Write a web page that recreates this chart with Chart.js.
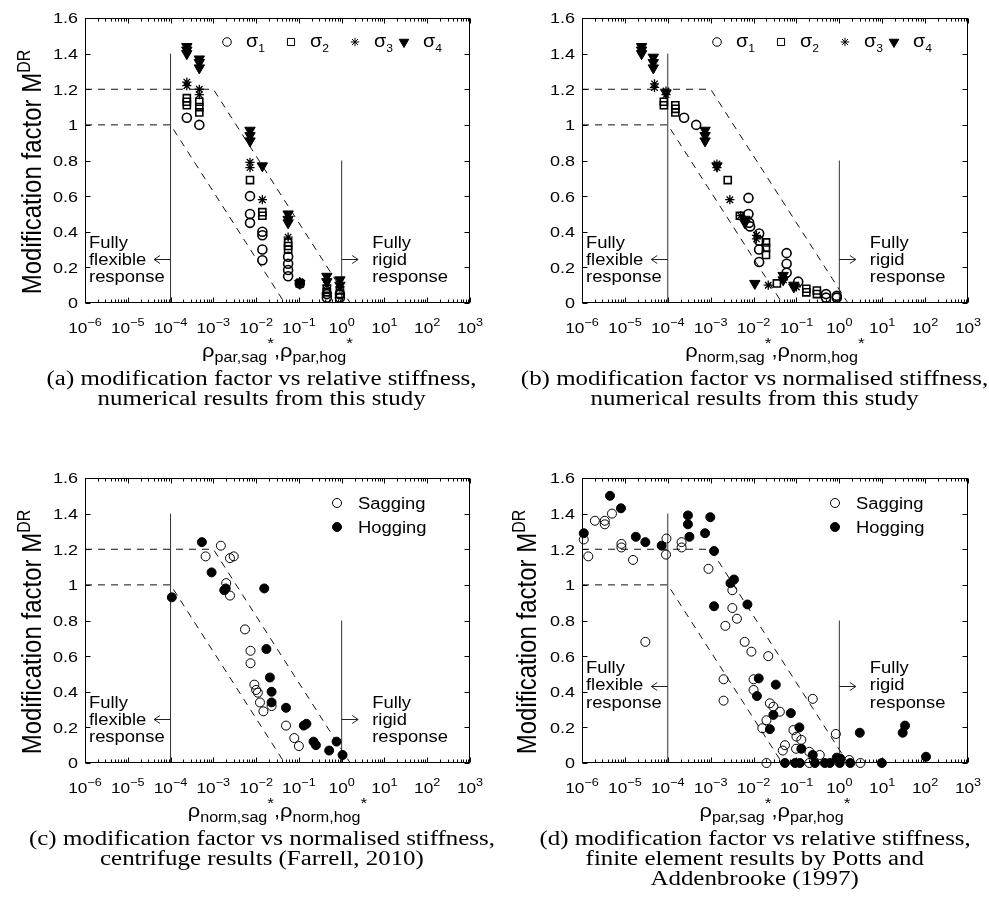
<!DOCTYPE html>
<html><head><meta charset="utf-8">
<script src="https://cdn.jsdelivr.net/npm/chart.js@4.4.0/dist/chart.umd.min.js"></script>
<style>
html,body{margin:0;padding:0;background:#fff;}
#page{position:relative;width:989px;height:917px;overflow:hidden;background:#fff;}
.panel{position:absolute;}
.cap{position:absolute;width:600px;height:22px;font-family:"Liberation Serif","Times New Roman",serif;font-size:20px;line-height:22px;color:#000;text-align:center;white-space:nowrap;}
.cap span{display:inline-block;transform-origin:50% 50%;}
</style></head><body>
<div id="page">
  <div class="panel" style="left:0;top:0;width:490px;height:372px"><canvas id="cA" width="490" height="372"></canvas></div>
  <div class="panel" style="left:495px;top:0;width:494px;height:372px"><canvas id="cB" width="494" height="372"></canvas></div>
  <div class="panel" style="left:0;top:460px;width:490px;height:372px"><canvas id="cC" width="490" height="372"></canvas></div>
  <div class="panel" style="left:495px;top:460px;width:494px;height:372px"><canvas id="cD" width="494" height="372"></canvas></div>

  <div class="cap" style="left:-38px;top:367px"><span class="first">(a) modification factor vs relative stiffness,</span></div>
  <div class="cap" style="left:-38px;top:387px"><span>numerical results from this study</span></div>
  <div class="cap" style="left:455px;top:367px"><span>(b) modification factor vs normalised stiffness,</span></div>
  <div class="cap" style="left:455px;top:387px"><span>numerical results from this study</span></div>
  <div class="cap" style="left:-38px;top:827px"><span>(c) modification factor vs normalised stiffness,</span></div>
  <div class="cap" style="left:-38px;top:847px"><span>centrifuge results (Farrell, 2010)</span></div>
  <div class="cap" style="left:455px;top:827px"><span>(d) modification factor vs relative stiffness,</span></div>
  <div class="cap" style="left:455px;top:847px"><span>finite element results by Potts and</span></div>
  <div class="cap" style="left:455px;top:867px"><span>Addenbrooke (1997)</span></div>
</div>
<script>
// ---------- axis ticks ----------
const xTickVals = [1e-6, 1e-5, 1e-4, 1e-3, 1e-2, 1e-1, 1e0, 1e1, 1e2, 1e3];
const xTickExp  = ['\u22126', '\u22125', '\u22124', '\u22123', '\u22122', '\u22121', '0', '1', '2', '3'];
const yTickVals = [0, 0.2, 0.4, 0.6, 0.8, 1, 1.2, 1.4, 1.6];
const yTickLabels = ['0', '0.2', '0.4', '0.6', '0.8', '1', '1.2', '1.4', '1.6'];

// ---------- guide lines ----------
const flexLimitX = [1e-4, 1e-4],  flexLimitY = [0, 1.4];
const rigidLimitX = [1, 1],       rigidLimitY = [0, 0.8];
const upperBoundX = [1e-6, 1e-3, 1.585], upperBoundY = [1.2, 1.2, 0];
const lowerBoundX = [1e-6, 1e-4, 0.0464], lowerBoundY = [1.0, 1.0, 0];

// ---------- (a) numerical, relative stiffness ----------
const aS1x = [2.4e-4, 4.7e-4, 7.2e-3, 7.2e-3, 7.2e-3, 1.4e-2, 1.4e-2, 1.4e-2, 1.4e-2, 5.6e-2, 5.6e-2, 5.6e-2, 5.6e-2, 0.105, 0.45, 0.45, 0.91, 0.91];
const aS1y = [1.04, 1.00, 0.60, 0.50, 0.45, 0.40, 0.38, 0.30, 0.24, 0.26, 0.22, 0.185, 0.15, 0.11, 0.05, 0.03, 0.05, 0.03];
const aS2x = [2.4e-4, 2.4e-4, 2.4e-4, 4.7e-4, 4.7e-4, 4.7e-4, 7.2e-3, 1.4e-2, 1.4e-2, 5.6e-2, 5.6e-2, 5.6e-2, 0.105, 0.45, 0.45, 0.91, 0.91];
const aS2y = [1.15, 1.13, 1.11, 1.13, 1.10, 1.07, 0.69, 0.51, 0.49, 0.34, 0.32, 0.30, 0.11, 0.08, 0.06, 0.07, 0.05];
const aS3x = [2.4e-4, 2.4e-4, 4.7e-4, 4.7e-4, 7.2e-3, 7.2e-3, 1.4e-2, 5.6e-2, 0.105, 0.45, 0.91];
const aS3y = [1.24, 1.22, 1.20, 1.17, 0.79, 0.76, 0.58, 0.37, 0.12, 0.10, 0.09];
const aS4x = [2.4e-4, 2.4e-4, 2.4e-4, 4.7e-4, 4.7e-4, 4.7e-4, 7.2e-3, 7.2e-3, 7.2e-3, 1.4e-2, 5.6e-2, 5.6e-2, 5.6e-2, 0.105, 0.45, 0.45, 0.91, 0.91];
const aS4y = [1.44, 1.42, 1.40, 1.37, 1.35, 1.32, 0.97, 0.94, 0.91, 0.77, 0.50, 0.47, 0.45, 0.11, 0.15, 0.12, 0.13, 0.10];

// ---------- (b) numerical, normalised stiffness ----------
const bS1x = [2.4e-4, 4.6e-4, 7.6e-3, 7.6e-3, 7.9e-3, 8.3e-3, 1.35e-2, 1.35e-2, 1.35e-2, 1.35e-2, 5.9e-2, 5.9e-2, 5.9e-2, 0.11, 0.49, 0.49, 0.87, 0.87];
const bS1y = [1.04, 1.00, 0.59, 0.50, 0.45, 0.43, 0.39, 0.35, 0.30, 0.23, 0.28, 0.22, 0.17, 0.12, 0.05, 0.03, 0.04, 0.03];
const bS2x = [8.1e-5, 8.1e-5, 1.5e-4, 1.5e-4, 1.5e-4, 2.5e-3, 4.8e-3, 1.95e-2, 1.95e-2, 1.95e-2, 3.5e-2, 0.17, 0.17, 0.30, 0.30];
const bS2y = [1.13, 1.11, 1.11, 1.09, 1.07, 0.69, 0.49, 0.34, 0.31, 0.27, 0.11, 0.08, 0.06, 0.07, 0.05];
const bS3x = [4.9e-5, 4.9e-5, 9.1e-5, 9.1e-5, 1.4e-3, 1.4e-3, 2.8e-3, 5.0e-3, 1.17e-2, 1.17e-2, 2.2e-2, 5.0e-2, 0.10];
const bS3y = [1.23, 1.21, 1.19, 1.17, 0.78, 0.76, 0.58, 0.49, 0.38, 0.36, 0.10, 0.13, 0.09];
const bS4x = [2.45e-5, 2.45e-5, 2.45e-5, 4.6e-5, 4.6e-5, 4.6e-5, 9.1e-5, 7.4e-4, 7.4e-4, 7.4e-4, 1.4e-3, 6.3e-3, 6.3e-3, 1.07e-2, 4.9e-2, 4.9e-2, 8.7e-2, 8.7e-2];
const bS4y = [1.44, 1.42, 1.40, 1.38, 1.35, 1.32, 1.18, 0.97, 0.94, 0.91, 0.77, 0.47, 0.45, 0.11, 0.155, 0.13, 0.10, 0.09];

// ---------- (c) centrifuge (Farrell, 2010) ----------
const cSagX = [1.5e-3, 6.6e-4, 2.45e-3, 3.0e-3, 2.0e-3, 2.45e-3, 5.5e-3, 7.4e-3, 7.4e-3, 9.1e-3, 1.0e-2, 1.1e-2, 1.23e-2, 2.3e-2, 1.48e-2, 5.0e-2, 7.8e-2, 0.10];
const cSagY = [1.22, 1.16, 1.15, 1.16, 1.01, 0.94, 0.75, 0.63, 0.56, 0.44, 0.41, 0.395, 0.34, 0.32, 0.29, 0.21, 0.14, 0.095];
const cHogX = [5.4e-4, 9.1e-4, 1.8e-3, 1.95e-3, 1.55e-2, 1.07e-4, 1.74e-2, 2.1e-2, 2.3e-2, 2.3e-2, 5.0e-2, 0.13, 0.15, 0.22, 0.25, 0.51, 0.76, 1.05];
const cHogY = [1.24, 1.07, 0.97, 0.98, 0.98, 0.93, 0.64, 0.48, 0.40, 0.34, 0.31, 0.21, 0.22, 0.12, 0.10, 0.07, 0.12, 0.045];

// ---------- (d) FE results, Potts & Addenbrooke (1997) ----------
const dSagX = [1.1e-6, 1.4e-6, 2.0e-6, 3.4e-6, 3.4e-6, 5.0e-6, 8.3e-6, 8.3e-6, 1.55e-5, 3.0e-5, 9.3e-5, 9.1e-5, 2.1e-4, 2.1e-4, 8.9e-4, 3.2e-3, 3.2e-3, 4.1e-3, 2.2e-3, 6.2e-3, 8.9e-3, 2.0e-3, 2.0e-3, 1.0e-2, 1.0e-2, 2.2e-2, 1.6e-2, 2.0e-2, 2.4e-2, 2.9e-2, 4.1e-2, 2.0e-2, 0.24, 8.5e-2, 0.10, 0.13, 9.8e-2, 5.4e-2, 4.8e-2, 0.20, 0.35, 0.83, 1.7, 0.20, 3.1];
const dSagY = [1.255, 1.16, 1.36, 1.36, 1.34, 1.40, 1.23, 1.21, 1.14, 0.68, 1.26, 1.17, 1.24, 1.21, 1.09, 0.97, 0.87, 0.81, 0.77, 0.68, 0.625, 0.47, 0.35, 0.47, 0.41, 0.60, 0.195, 0.24, 0.335, 0.316, 0.288, 0, 0.36, 0.185, 0.148, 0.13, 0.08, 0.10, 0.07, 0.063, 0.045, 0.163, 0.017, 0, 0];
const dHogX = [1.1e-6, 4.5e-6, 8.1e-6, 1.8e-5, 3.0e-5, 7.2e-5, 2.95e-4, 2.95e-4, 3.2e-4, 7.4e-4, 9.8e-4, 1.2e-3, 2.9e-3, 3.5e-3, 1.2e-3, 7.2e-3, 1.32e-2, 1.2e-2, 3.3e-2, 2.9e-2, 2.4e-2, 7.4e-2, 0.117, 0.13, 0.24, 0.87, 1.05, 3.0, 30, 34, 105, 0.054, 0.093, 0.12, 0.27, 0.46, 0.60, 1.02, 1.8, 9.8];
const dHogY = [1.29, 1.50, 1.43, 1.27, 1.24, 1.22, 1.39, 1.34, 1.27, 1.29, 1.38, 1.19, 1.01, 1.03, 0.88, 0.89, 0.475, 0.376, 0.44, 0.27, 0.19, 0.28, 0.20, 0.08, 0.045, 0.03, 0.025, 0.17, 0.17, 0.21, 0.035, 0, 0, 0, 0, 0, 0, 0, 0, 0];

// ---------- text ----------
const FONT = '"Liberation Sans", Arial, Helvetica, sans-serif';
const SX = 1.15;
function txt(ctx, s, x, y, size, align, sx) {
  sx = sx || SX;
  ctx.font = size + 'px ' + FONT;
  const w = ctx.measureText(s).width * sx;
  const x0 = align === 'center' ? x - w / 2 : align === 'right' ? x - w : x;
  ctx.save(); ctx.translate(x0, y); ctx.scale(sx, 1);
  ctx.textAlign = 'left'; ctx.textBaseline = 'alphabetic';
  ctx.fillText(s, 0, 0); ctx.restore();
  return w;
}
function rich(ctx, parts, x, y, align, sx) {
  sx = sx || SX;
  let w = 0;
  parts.forEach(p => { ctx.font = p[1] + 'px ' + FONT; w += ctx.measureText(p[0]).width * sx; });
  let cx = align === 'center' ? x - w / 2 : align === 'right' ? x - w : x;
  parts.forEach(p => { cx += txt(ctx, p[0], cx, y + (p[2] || 0), p[1], 'left', sx); });
  return w;
}
function drawMarker(ctx, m, x, y) {
  ctx.save();
  ctx.lineWidth = m.bw; ctx.strokeStyle = '#000'; ctx.fillStyle = '#000';
  ctx.beginPath();
  const r = m.r;
  if (m.style === 'circle') { ctx.arc(x, y, r, 0, Math.PI * 2); }
  else if (m.style === 'rect') { const s = r * Math.SQRT1_2; ctx.rect(x - s, y - s, 2 * s, 2 * s); }
  else if (m.style === 'star') {
    for (let k = 0; k < 4; k++) { const a = k * Math.PI / 4; ctx.moveTo(x - Math.cos(a) * r, y - Math.sin(a) * r); ctx.lineTo(x + Math.cos(a) * r, y + Math.sin(a) * r); }
  } else if (m.style === 'triangle') {
    let a = Math.PI; ctx.moveTo(x + Math.sin(a) * r, y - Math.cos(a) * r);
    a += 2 * Math.PI / 3; ctx.lineTo(x + Math.sin(a) * r, y - Math.cos(a) * r);
    a += 2 * Math.PI / 3; ctx.lineTo(x + Math.sin(a) * r, y - Math.cos(a) * r);
    ctx.closePath();
  }
  if (m.filled) ctx.fill();
  ctx.stroke();
  ctx.restore();
}
function arrow(ctx, x1, x2, y, dir) {
  ctx.beginPath(); ctx.moveTo(x1, y); ctx.lineTo(x2, y);
  const hx = dir < 0 ? x1 : x2, s = dir < 0 ? 1 : -1;
  ctx.moveTo(hx + s * 6, y - 4); ctx.lineTo(hx, y); ctx.lineTo(hx + s * 6, y + 4);
  ctx.stroke();
}

const MK = {
  s1: { style: 'circle', r: 4.5, bw: 1.6, filled: false },
  s2: { style: 'rect', r: 5, bw: 1.6, filled: false },
  s3: { style: 'star', r: 4.6, bw: 1.3, filled: false },
  s4: { style: 'triangle', r: 6, bw: 1, filled: true },
  sag: { style: 'circle', r: 4.5, bw: 1, filled: false },
  hog: { style: 'circle', r: 4.5, bw: 1, filled: true }
};
const MK_LEG = {
  s1: { style: 'circle', r: 4.3, bw: 1, filled: false },
  s2: { style: 'rect', r: 5, bw: 1, filled: false },
  s3: { style: 'star', r: 4.2, bw: 1, filled: false },
  s4: { style: 'triangle', r: 5.5, bw: 1, filled: true }
};

const decor = {
  id: 'panelDecor',
  afterDraw(chart, args, o) {
    const ctx = chart.ctx, xs = chart.scales.x, ys = chart.scales.y, ca = chart.chartArea;
    const X = v => xs.getPixelForValue(v), Y = v => ys.getPixelForValue(v);
    ctx.save();
    ctx.fillStyle = '#000'; ctx.strokeStyle = '#000'; ctx.lineWidth = 1;
    const L = Math.round(ca.left) + 0.5, R = Math.round(ca.right) - 0.5, T = Math.round(ca.top) + 0.5, B = Math.round(ca.bottom) - 0.5;
    ctx.strokeRect(L, T, R - L, B - T);
    ctx.beginPath();
    for (let e = -6; e <= 3; e++) {
      for (let m = 1; m <= 9; m++) {
        if (e === 3 && m > 1) break;
        const v = m * Math.pow(10, e);
        const px = Math.round(X(v)) + 0.5;
        const len = m === 1 ? 5 : 3;
        ctx.moveTo(px, B); ctx.lineTo(px, B - len);
        ctx.moveTo(px, T); ctx.lineTo(px, T + len);
      }
    }
    yTickVals.forEach(v => {
      const py = Math.round(Y(v)) + 0.5;
      ctx.moveTo(L, py); ctx.lineTo(L + 5, py);
      ctx.moveTo(R, py); ctx.lineTo(R - 5, py);
    });
    ctx.stroke();
    yTickVals.forEach((v, i) => txt(ctx, yTickLabels[i], ca.left - 7, Y(v) + 5.4, 15, 'right', 1.2));
    xTickVals.forEach((v, i) => rich(ctx, [['10', 15, 0], [xTickExp[i], 11, -7]], X(v), 333, 'center', 1.15));
    rich(ctx, [['\u03C1', 19, 0], [o.xSub1, 14, 5], ['*', 15, -9], [',', 19, 0], ['\u03C1', 19, 0], [o.xSub2, 14, 5], ['*', 15, -9]], (ca.left + ca.right) / 2, 357, 'center', 1.15);
    if (o.yTitle) {
      ctx.save();
      ctx.translate(41, 172); ctx.scale(1.15, 1); ctx.rotate(-Math.PI / 2);
      rich(ctx, [['Modification factor M', 24, 0], ['DR', 16, -10]], 0, 0, 'center', 1);
      ctx.restore();
    }
    ctx.strokeStyle = '#222';
    const fy = o.fullyY;
    const xl = ca.left + 4;
    txt(ctx, 'Fully', xl, fy[0], 16, 'left');
    txt(ctx, 'flexible', xl, fy[1], 16, 'left');
    txt(ctx, 'response', xl, fy[2], 16, 'left');
    const xr = X(1) + 30.5;
    txt(ctx, 'Fully', xr, fy[0], 16, 'left');
    txt(ctx, 'rigid', xr, fy[1], 16, 'left');
    txt(ctx, 'response', xr, fy[2], 16, 'left');
    const ay = fy[1] + o.arrowDy;
    arrow(ctx, X(1e-4) - 16.5, X(1e-4), ay, -1);
    arrow(ctx, X(1), X(1) + 16.5, ay, 1);
    ctx.fillStyle = '#000';
    if (o.legend === 'sigma') {
      const keys = ['s1', 's2', 's3', 's4'];
      o.legX.forEach((lx, i) => {
        drawMarker(ctx, MK_LEG[keys[i]], lx, 42);
        rich(ctx, [['\u03C3', 18, 0], [String(i + 1), 11, 5]], lx + 19, 47, 'left', 1.1);
      });
    } else {
      const lx = o.legX[0];
      drawMarker(ctx, MK.sag, lx, 43);
      txt(ctx, 'Sagging', lx + 21, 49, 16, 'left');
      drawMarker(ctx, MK.hog, lx, 67);
      txt(ctx, 'Hogging', lx + 21, 73, 16, 'left');
    }
    ctx.restore();
  }
};

function pts(xs, ys) { return xs.map((x, i) => ({ x: x, y: ys[i] })); }
function scat(xs, ys, m) {
  return { data: pts(xs, ys), showLine: false, clip: false, order: 0,
    pointStyle: m.style, pointRadius: m.r, pointHoverRadius: m.r, pointBorderWidth: m.bw,
    pointBorderColor: '#000', pointBackgroundColor: m.filled ? '#000' : 'rgba(0,0,0,0)',
    pointRotation: m.style === 'triangle' ? 180 : 0 };
}
function guide(xs, ys, dash, color) {
  return { data: pts(xs, ys), showLine: true, borderColor: color, borderWidth: 1, borderDash: dash,
    pointRadius: 0, fill: false, tension: 0, clip: false, order: 10 };
}
function guides() {
  return [
    guide(flexLimitX, flexLimitY, [], '#333'),
    guide(rigidLimitX, rigidLimitY, [], '#333'),
    guide(upperBoundX, upperBoundY, [7, 6], '#111'),
    guide(lowerBoundX, lowerBoundY, [7, 6], '#111')
  ];
}
function makeChart(id, datasets, padL, padR, deco) {
  return new Chart(document.getElementById(id), {
    type: 'scatter',
    data: { datasets: datasets.concat(guides()) },
    options: {
      responsive: false, animation: false, events: [], devicePixelRatio: 1,
      layout: { padding: { left: padL, right: padR, top: 18, bottom: 69 } },
      scales: {
        x: { type: 'logarithmic', min: 1e-6, max: 1e3, display: false },
        y: { type: 'linear', min: 0, max: 1.6, display: false }
      },
      plugins: { legend: { display: false }, tooltip: { enabled: false }, panelDecor: deco }
    },
    plugins: [decor]
  });
}

makeChart('cA', [scat(aS4x, aS4y, MK.s4), scat(aS3x, aS3y, MK.s3), scat(aS2x, aS2y, MK.s2), scat(aS1x, aS1y, MK.s1)], 85, 20,
  { xSub1: 'par,sag', xSub2: 'par,hog', yTitle: true, fullyY: [248.3, 265, 281.7], arrowDy: -5.5, legend: 'sigma', legX: [227, 291, 355, 404] });
makeChart('cB', [scat(bS4x, bS4y, MK.s4), scat(bS3x, bS3y, MK.s3), scat(bS2x, bS2y, MK.s2), scat(bS1x, bS1y, MK.s1)], 87, 21,
  { xSub1: 'norm,sag', xSub2: 'norm,hog', yTitle: false, fullyY: [248.3, 265, 281.7], arrowDy: -5.5, legend: 'sigma', legX: [222, 286, 350, 399] });
makeChart('cC', [scat(cHogX, cHogY, MK.hog), scat(cSagX, cSagY, MK.sag)], 85, 20,
  { xSub1: 'norm,sag', xSub2: 'norm,hog', yTitle: true, fullyY: [248.3, 265, 281.7], arrowDy: -5.5, legend: 'sh', legX: [337] });
makeChart('cD', [scat(dHogX, dHogY, MK.hog), scat(dSagX, dSagY, MK.sag)], 87, 21,
  { xSub1: 'par,sag', xSub2: 'par,hog', yTitle: true, fullyY: [213.3, 230, 247.7], arrowDy: -3.5, legend: 'sh', legX: [340] });

(function () {
  const spans = document.querySelectorAll('.cap span');
  const first = document.querySelector('.cap span.first');
  const k = 430 / first.offsetWidth;
  spans.forEach(s => { s.style.transform = 'scaleX(' + k.toFixed(3) + ')'; });
})();
</script>
</body></html>
